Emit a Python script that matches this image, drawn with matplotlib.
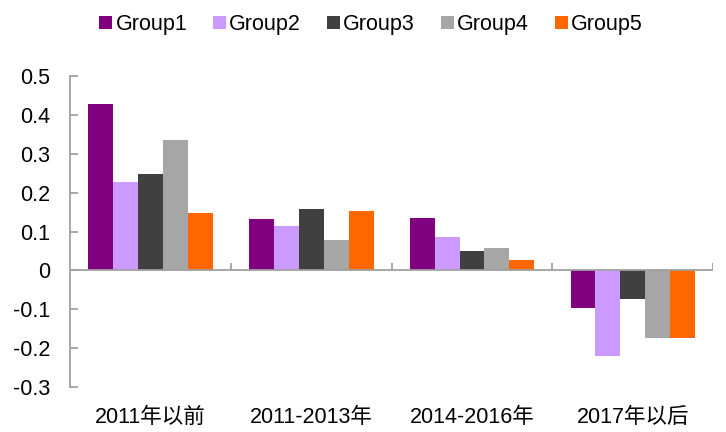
import numpy as np
import matplotlib
matplotlib.use("Agg")
import matplotlib.pyplot as plt

plt.rcParams["font.family"] = ["Liberation Sans", "Noto Sans CJK SC"]

categories = ["2011年以前", "2011-2013年", "2014-2016年", "2017年以后"]
groups = ["Group1", "Group2", "Group3", "Group4", "Group5"]
group1 = [0.427, 0.131, 0.135, -0.097]
group2 = [0.227, 0.115, 0.085, -0.220]
group3 = [0.247, 0.158, 0.051, -0.074]
group4 = [0.335, 0.078, 0.058, -0.174]
group5 = [0.147, 0.154, 0.027, -0.174]
yticks = [-0.3, -0.2, -0.1, 0, 0.1, 0.2, 0.3, 0.4, 0.5]
ytick_labels = ["-0.3", "-0.2", "-0.1", "0", "0.1", "0.2", "0.3", "0.4", "0.5"]

colors = ["#800080", "#CC99FF", "#404040", "#A6A6A6", "#FF6600"]
axis_color = "#A0A0A0"
fs = 15.5

fig = plt.figure(figsize=(7.26, 4.32), dpi=100)
ax = fig.add_axes([0.0964, 0.104, 0.886, 0.720])

x = np.arange(len(categories))
width = 0.155
series = [group1, group2, group3, group4, group5]
for i, (name, vals) in enumerate(zip(groups, series)):
    ax.bar(x + (i - 2) * width, vals, width, color=colors[i], label=name, zorder=2)

ax.set_xlim(-0.5, len(categories) - 0.5)
ax.set_ylim(-0.3, 0.5)
ax.set_yticks(yticks)
ax.set_yticklabels(ytick_labels)

# zero line with category boundary ticks
ax.axhline(0, color=axis_color, lw=1.3, zorder=3)
ax.vlines(x + 0.5, 0, 0.018, color=axis_color, lw=1.3, zorder=3)

for s in ["top", "right", "bottom"]:
    ax.spines[s].set_visible(False)
ax.spines["left"].set_color(axis_color)
ax.spines["left"].set_linewidth(1.3)

ax.set_xticks(x)
ax.set_xticklabels(categories)
ax.tick_params(axis="x", length=0, pad=14, labelsize=fs)
ax.tick_params(axis="y", direction="in", length=6, width=1.3, color=axis_color,
               pad=14, labelsize=fs)

ax.legend(loc="upper center", bbox_to_anchor=(0.511, 1.0), bbox_transform=fig.transFigure,
          ncol=5, frameon=False, fontsize=fs, handlelength=0.6, handleheight=0.6,
          handletextpad=0.15, columnspacing=1.2, borderaxespad=0.25)

fig.savefig("out.png", dpi=100)
